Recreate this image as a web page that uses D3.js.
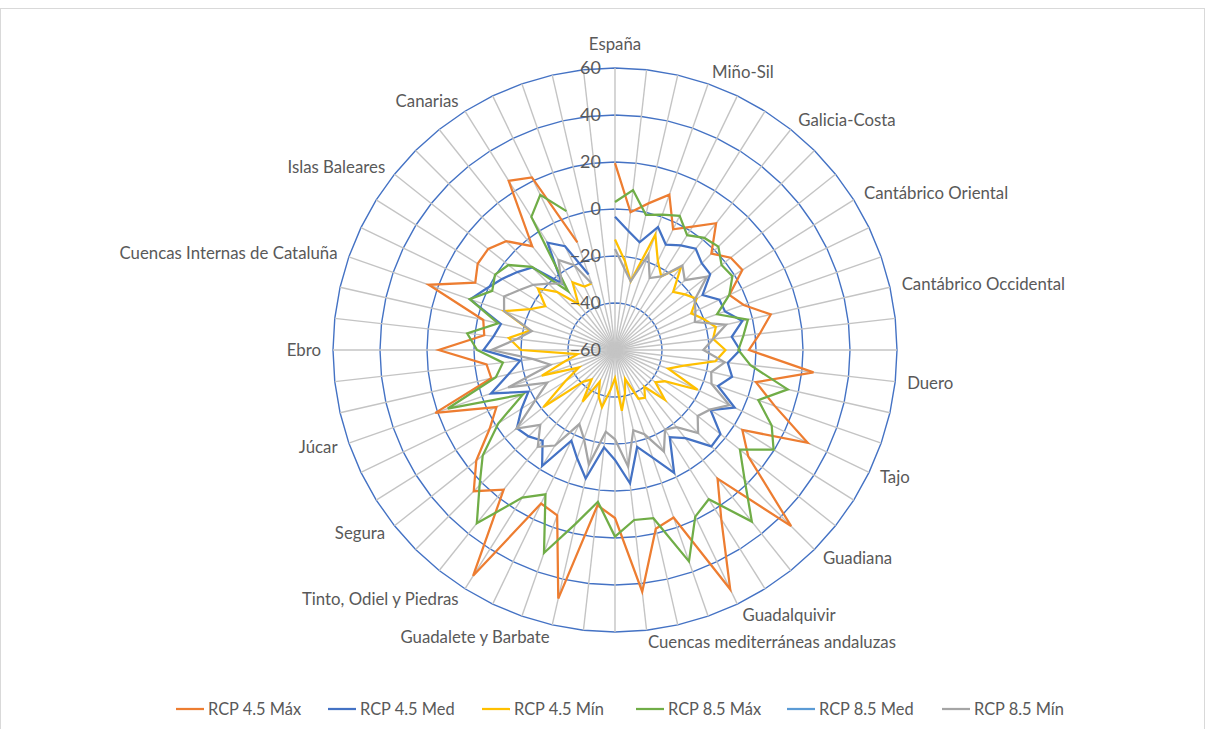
<!DOCTYPE html>
<html>
<head>
<meta charset="utf-8">
<script src="https://cdn.jsdelivr.net/npm/d3@7"></script>
<style>
  html, body { margin: 0; padding: 0; background: #fff; }
  svg { display: block; }
  text { font-family: Lato, "Open Sans", sans-serif; fill: #595959; }
</style>
</head>
<body>
<svg id="chart" width="1212" height="729"></svg>
<script>
// Category axis: three spokes per basin, two trailing blank spokes
const categories = [
  "España","","","Miño-Sil","","","Galicia-Costa","","",
  "Cantábrico Oriental","","","Cantábrico Occidental","","",
  "Duero","","","Tajo","","","Guadiana","","",
  "Guadalquivir","","","Cuencas mediterráneas andaluzas","","",
  "Guadalete y Barbate","","","Tinto, Odiel y Piedras","","",
  "Segura","","","Júcar","","","Ebro","","",
  "Cuencas Internas de Cataluña","","","Islas Baleares","","",
  "Canarias","","","",""
];

const rcp45Max = [19.5,-1,4,10,-3,2,9,-2,3,4, -6,-2,8,2,-3,25,1.5,12,31,4,
  12.5,46,10,25,53,15.5,18,43.5,11.5,6.5, 48.5,14.5,12.5,53.5,16,25,15.5,3,-4,21,
  -6,-5,15,-4,-2.5,24,6,9,9,5.5, -3.5,25,21.5,-11.5,null,null];
const rcp45Med = [-3.3,-9,-13,-4.6,-10.2,-7.4,-4.9,-7.8,-8.2,-16, -10.7,-10.4,-4.4,-10,-6.8,-11.7,-8.9,-13.6,-3.5,-12,
  -2.6,-2,-12,-16.2,-2,-11.5,-17.7,-2.9,-13.2,-18.3, -3.9,-11.2,-17.2,-1.7,-10.6,-8,-6.6,-13,-19.1,-4.1,
  -13.5,-19.4,-4,-8,-10.2,5.3,0.5,-3.2,-6.8,-10.3, -23.7,-6.1,-11,-26,null,null];
const rcp45Min = [-13,-22,-30,-8,-18,-23,-15,-25,-22,-19, -24,-20,-16,-18,-13,-17,-30,-36,-21,-35,
  -38,-30,-40,-36,-37,-47,-41,-34,-48,-43, -35,-39,-45,-34,-44,-41,-21,-35,-43,-27,
  -38,-44,-20,-14.5,-23,-10,-20,-25,-18,-25, -35,-26,-30,-30,null,null];
const rcp85Max = [3,8.5,-1,1,3.4,-2.3,1,2.2,-2,-1, -6,-14,-2,-5,-7.5,-2,15.4,4.6,14,19.7,
  8,18,33.4,15,18.7,35.3,13.4,12.8,19.4,5, 16,31.5,8.2,14.2,34.3,21.5,12,-1.4,-16.5,15.4,
  -8,-12,-1.3,3.3,-9,5.5,-2,0.3,-2,-10, -28,6.9,13.3,2.6,null,null];
const rcp85Med = [];
const rcp85Min = [-17,-25,-30,-17,-26,-23,-14,-18,-10,-20, -22,-24,-11.5,-18,-22.4,-13,-18,-16.5,-6,-12.3,
  -15,-10,-18,-20,-12,-22,-25,-10,-22,-25, -10,-20,-25,-12,-7.3,-15,-6.4,-20,-28,-11.8,
  -31.8,-25,-7.5,-18,-23.7,-10,-7.6,-12,-15.5,-20, -23.7,-14.7,-20,-30,null,null];

const seriesNames = ["RCP 4.5 Máx","RCP 4.5 Med","RCP 4.5 Mín","RCP 8.5 Máx","RCP 8.5 Med","RCP 8.5 Mín"];
const seriesValues = [rcp45Max, rcp45Med, rcp45Min, rcp85Max, rcp85Med, rcp85Min];
const seriesColors = ["#ED7D31","#4472C4","#FFC000","#70AD47","#5B9BD5","#A5A5A5"];
const tickValues = [-60,-40,-20,0,20,40,60];

const svg = d3.select("#chart");
const cx = 615, cy = 350, R = 282;

// chart area frame
svg.append("rect").attr("x", 0.5).attr("y", 8.5).attr("width", 1204).attr("height", 730)
  .attr("fill", "none").attr("stroke", "#d9d9d9").attr("stroke-width", 1);

const n = categories.length;
const angle = d3.scaleLinear().domain([0, n]).range([0, 2 * Math.PI]);
const radius = d3.scaleLinear().domain([-60, 60]).range([0, R]);

const g = svg.append("g").attr("transform", `translate(${cx},${cy})`);

// concentric value gridlines (polygons through every spoke)
const ring = d3.lineRadial().angle(d => angle(d.i)).radius(d => d.r).curve(d3.curveLinearClosed);
tickValues.filter(v => v > -60).forEach(v => {
  g.append("path")
    .attr("d", ring(d3.range(n).map(i => ({ i, r: radius(v) }))))
    .attr("fill", "none").attr("stroke", "#4472C4").attr("stroke-width", 1.4);
});

// spokes
g.selectAll("line.spoke").data(d3.range(n)).join("line")
  .attr("class", "spoke")
  .attr("x1", 0).attr("y1", 0)
  .attr("x2", i => R * Math.sin(angle(i)))
  .attr("y2", i => -R * Math.cos(angle(i)))
  .attr("stroke", "#c4c4c4").attr("stroke-width", 1.4);

// data series
const line = d3.lineRadial()
  .defined(d => d != null)
  .angle((d, i) => angle(i))
  .radius(d => radius(d));
seriesValues.forEach((vals, s) => {
  if (!vals.length) return;
  g.append("path").attr("d", line(vals))
    .attr("fill", "none").attr("stroke", seriesColors[s])
    .attr("stroke-width", 2.25).attr("stroke-linejoin", "miter");
});

// value axis labels along the vertical spoke
g.selectAll("text.tick").data(tickValues).join("text")
  .attr("class", "tick")
  .attr("x", -14).attr("y", v => -radius(v)).attr("dy", "0.36em")
  .attr("text-anchor", "end").attr("font-size", 18)
  .text(v => d3.format("d")(v));

// category labels
categories.forEach((c, i) => {
  if (!c) return;
  const a = angle(i), s = Math.sin(a), co = Math.cos(a);
  const px = (R + 12) * s, py = -(R + 12) * co;
  const t = g.append("text").attr("font-size", 16.8).text(c);
  if (Math.abs(s) < 0.01) {
    t.attr("x", px).attr("y", py - 12).attr("dy", "0.35em").attr("text-anchor", "middle");
  } else {
    t.attr("x", px).attr("y", py).attr("dy", "0.35em").attr("text-anchor", s > 0 ? "start" : "end");
  }
});

// legend
const legendX = [176, 328, 482, 636, 787, 942];
const lg = svg.append("g");
seriesNames.forEach((name, s) => {
  const x = legendX[s], y = 709;
  lg.append("line").attr("x1", x).attr("x2", x + 28).attr("y1", y).attr("y2", y)
    .attr("stroke", seriesColors[s]).attr("stroke-width", 2.25);
  lg.append("text").attr("x", x + 32).attr("y", y).attr("dy", "0.35em")
    .attr("font-size", 16.4).text(name);
});
</script>
</body>
</html>
